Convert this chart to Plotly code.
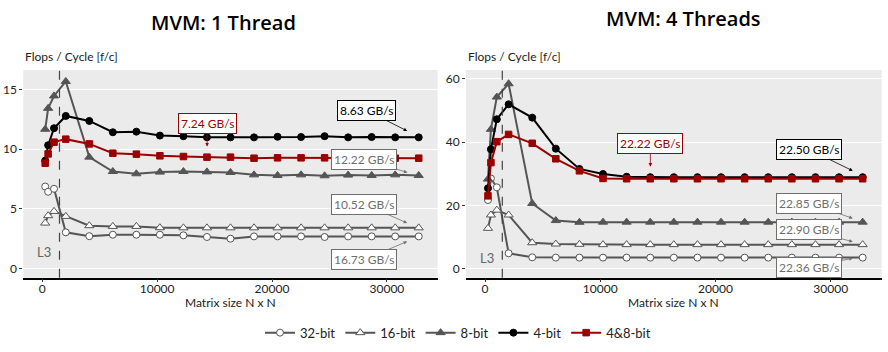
import plotly.graph_objects as go

# ---------------- data ----------------
N = [256, 512, 1024] + [2048 * k for k in range(1, 17)]

series_names = ["32-bit", "16-bit", "8-bit", "4-bit", "4&8-bit"]

# 1 thread
b32_1 = [6.87, 6.43, 6.68, 3.02, 2.70, 2.82, 2.82, 2.82, 2.77, 2.63, 2.49, 2.68, 2.68, 2.68, 2.63, 2.68, 2.68, 2.68, 2.68]
b16_1 = [3.80, 4.42, 4.78, 4.36, 3.58, 3.52, 3.52, 3.41, 3.40, 3.40, 3.40, 3.40, 3.40, 3.40, 3.40, 3.40, 3.40, 3.40, 3.40]
b8_1 = [11.68, 13.44, 14.48, 15.70, 9.34, 8.13, 7.94, 8.08, 8.13, 8.10, 8.05, 7.85, 7.80, 7.85, 7.77, 7.83, 7.80, 7.85, 7.80]
b4_1 = [9.05, 10.34, 11.77, 12.80, 12.38, 11.43, 11.48, 11.15, 11.10, 11.01, 11.00, 11.00, 11.05, 11.03, 11.10, 11.00, 11.03, 11.00, 11.00]
b48_1 = [8.83, 9.61, 10.60, 10.85, 10.45, 9.67, 9.59, 9.45, 9.39, 9.34, 9.34, 9.25, 9.28, 9.28, 9.28, 9.28, 9.25, 9.25, 9.25]

# 4 threads
b32_4 = [21.7, 28.5, 25.7, 4.86, 3.6, 3.5, 3.5, 3.5, 3.5, 3.5, 3.5, 3.5, 3.5, 3.5, 3.5, 3.5, 3.5, 3.5, 3.5]
b16_4 = [12.75, 16.96, 18.5, 16.96, 8.2, 7.8, 7.7, 7.6, 7.6, 7.6, 7.6, 7.6, 7.6, 7.6, 7.6, 7.6, 7.6, 7.6, 7.6]
b8_4 = [28.3, 44.0, 54.2, 58.4, 20.6, 15.2, 14.65, 14.7, 14.7, 14.7, 14.7, 14.7, 14.7, 14.7, 14.7, 14.7, 14.7, 14.7, 14.7]
b4_4 = [25.4, 37.7, 47.2, 51.9, 47.7, 37.9, 31.5, 29.9, 29.05, 28.9, 28.9, 28.9, 28.9, 28.9, 28.9, 28.9, 28.9, 28.9, 28.9]
b48_4 = [23.0, 33.5, 40.1, 42.4, 39.6, 34.7, 30.9, 28.5, 28.4, 28.4, 28.4, 28.4, 28.4, 28.4, 28.4, 28.4, 28.4, 28.4, 28.4]

L3_size = 1500

titles = ["MVM: 1 Thread", "MVM: 4 Threads"]
y_ticks_1 = [0, 5, 10, 15]
y_ticks_4 = [0, 20, 40, 60]
x_ticks = [0, 10000, 20000, 30000]

# bandwidth labels: (text, colour-key, tip x, tip y, box x, box y)
labels_1 = [
    ("8.63 GB/s", "black", 31765, 11.54, 28261, 13.24),
    ("7.24 GB/s", "red", 14348, 10.23, 14348, 12.17),
    ("12.22 GB/s", "gray", 31790, 8.05, 28043, 9.15),
    ("10.52 GB/s", "gray", 31765, 3.80, 28043, 5.40),
    ("16.73 GB/s", "gray", 31765, 2.26, 28043, 0.73),
]
labels_4 = [
    ("22.22 GB/s", "red", 14348, 32.2, 14348, 39.5),
    ("22.50 GB/s", "black", 31913, 30.9, 28087, 37.7),
    ("22.85 GB/s", "gray", 31913, 15.9, 28087, 20.7),
    ("22.90 GB/s", "gray", 31913, 8.5, 28087, 12.3),
    ("22.36 GB/s", "gray", 31913, 3.3, 28087, 0.5),
]

# ---------------- styles ----------------
GRAY = "#555555"
RED = "#9c0000"
FONT = "Lato"
col_map = {"black": "#000000", "red": RED, "gray": "#6e6e6e"}

styles = {
    "32-bit": dict(line=GRAY, symbol="circle", fill="white", mline=GRAY, size=7),
    "16-bit": dict(line=GRAY, symbol="triangle-up", fill="white", mline=GRAY, size=8),
    "8-bit": dict(line=GRAY, symbol="triangle-up", fill=GRAY, mline=GRAY, size=8),
    "4-bit": dict(line="#000000", symbol="circle", fill="#000000", mline="#000000", size=7),
    "4&8-bit": dict(line=RED, symbol="square", fill=RED, mline=RED, size=6.5),
}

panels = [
    dict(data=[b32_1, b16_1, b8_1, b4_1, b48_1], xa="x", ya="y", labels=labels_1),
    dict(data=[b32_4, b16_4, b8_4, b4_4, b48_4], xa="x2", ya="y2", labels=labels_4),
]

fig = go.Figure()
for pi, p in enumerate(panels):
    for name, vals in zip(series_names, p["data"]):
        s = styles[name]
        fig.add_trace(go.Scatter(
            x=N, y=vals, mode="lines+markers", name=name,
            xaxis=p["xa"], yaxis=p["ya"], showlegend=(pi == 0), legendgroup=name,
            line=dict(color=s["line"], width=2),
            marker=dict(symbol=s["symbol"], size=s["size"], color=s["fill"],
                        line=dict(color=s["mline"], width=1)),
        ))

W, H = 888, 352
def px(v):
    return v / W
def py(v):
    return 1 - v / H

dom_y = [py(277.7), py(70)]
xdom1 = [px(23.3), px(437.7)]
xdom2 = [px(466), px(881.7)]

axis_common = dict(
    showgrid=False, zeroline=False, ticks="outside", ticklen=3, tickwidth=1,
    tickcolor="#333333", tickfont=dict(family=FONT, size=12, color="#222222"),
)
xcommon = dict(axis_common, tickvals=x_ticks, tickformat="d", range=[-1650, 34420],
               showline=True, linecolor="#000000", linewidth=1.5, ticklabelstandoff=-4)
ycommon = dict(axis_common, showgrid=True, gridcolor="#ffffff", gridwidth=1.2,
               showline=False)

fig.update_layout(
    width=W, height=H, margin=dict(l=0, r=0, t=0, b=0),
    paper_bgcolor="white", plot_bgcolor="#EBEBEB",
    font=dict(family=FONT, size=12, color="#222222"),
    xaxis=dict(xcommon, domain=xdom1, anchor="y"),
    yaxis=dict(ycommon, domain=dom_y, anchor="x", tickvals=y_ticks_1, range=[-0.79, 16.66]),
    xaxis2=dict(xcommon, domain=xdom2, anchor="y2"),
    yaxis2=dict(ycommon, domain=dom_y, anchor="x2", tickvals=y_ticks_4, range=[-2.84, 62.74]),
    legend=dict(orientation="h", x=px(458), xanchor="center", y=py(332.7), yanchor="middle",
                font=dict(family=FONT, size=13, color="#222222"), itemwidth=30,
                bgcolor="rgba(0,0,0,0)"),
    showlegend=True,
)

annotations = []
shapes = []
title_pos = [(223, 23), (683, 19)]
for i, (p, xd) in enumerate(zip(panels, [xdom1, xdom2])):
    xr = "x" if i == 0 else "x2"
    yr = "y" if i == 0 else "y2"
    annotations.append(dict(text=titles[i], x=px(title_pos[i][0]), y=py(title_pos[i][1]),
                            xref="paper", yref="paper", showarrow=False,
                            font=dict(family="Open Sans", size=20, weight=600, color="#000000"),
                            xanchor="center", yanchor="middle"))
    annotations.append(dict(text="Flops / Cycle [f/c]", x=xd[0], y=py(56.7), xref="paper",
                            yref="paper", showarrow=False, xanchor="left", yanchor="middle",
                            font=dict(family=FONT, size=12, color="#222222")))
    annotations.append(dict(text="Matrix size N x N", x=(xd[0] + xd[1]) / 2, y=py(302.5),
                            xref="paper", yref="paper", showarrow=False, xanchor="center",
                            yanchor="middle", font=dict(family=FONT, size=12, color="#222222")))
    # L3 marker
    shapes.append(dict(type="line", xref=xr, yref=yr + " domain", x0=L3_size, x1=L3_size,
                       y0=0, y1=1, line=dict(color="#444444", width=1.2, dash="dash")))
    annotations.append(dict(text="L3", xref=xr, yref="paper", x=L3_size, y=py(252 if i == 0 else 258),
                            xanchor="right", xshift=-6, yanchor="middle", showarrow=False,
                            font=dict(family=FONT, size=13, color="#666666")))
    for text, ck, tx, ty, bx, by in p["labels"]:
        c = col_map[ck]
        annotations.append(dict(
            text=text, x=tx, y=ty, ax=bx, ay=by, xref=xr, yref=yr, axref=xr, ayref=yr,
            showarrow=True, arrowhead=2, arrowsize=0.9, arrowwidth=0.8, arrowcolor=c,
            font=dict(family=FONT, size=12, color=c), bgcolor="white",
            bordercolor=c, borderwidth=1, borderpad=2,
        ))

fig.update_layout(annotations=annotations, shapes=shapes)
fig.write_html("out.html")
